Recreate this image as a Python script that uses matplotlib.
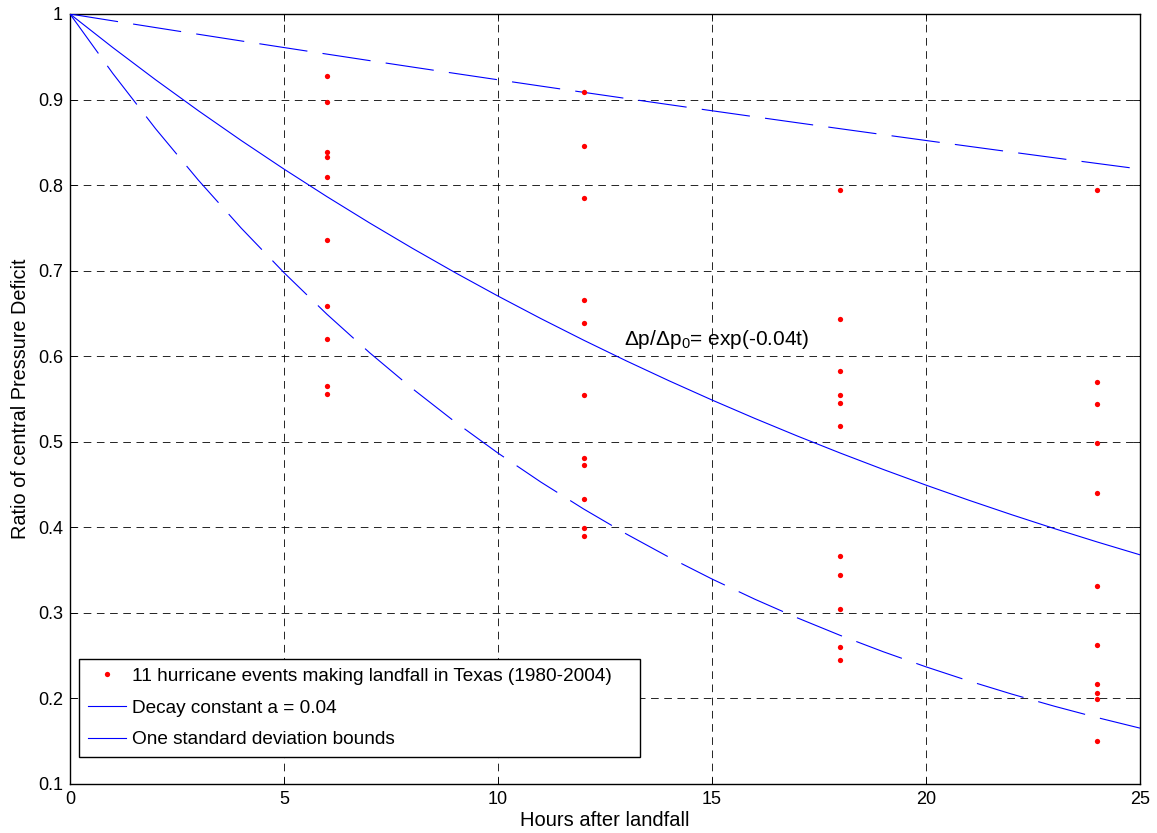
import numpy as np
import matplotlib
matplotlib.use("Agg")
import matplotlib.pyplot as plt
from matplotlib.lines import Line2D

plt.rcParams['font.family'] = ['Liberation Sans', 'DejaVu Sans']
plt.rcParams['mathtext.default'] = 'regular'
plt.rcParams['lines.scale_dashes'] = False

# Observed pressure-deficit ratios at 6, 12, 18 and 24 hours after landfall
hours_6 = [0.927, 0.897, 0.839, 0.833, 0.810, 0.736, 0.659, 0.620, 0.565, 0.556]
hours_12 = [0.909, 0.846, 0.785, 0.666, 0.639, 0.555, 0.481, 0.473, 0.433, 0.399, 0.390]
hours_18 = [0.794, 0.643, 0.583, 0.555, 0.545, 0.519, 0.367, 0.344, 0.305, 0.260, 0.245]
hours_24 = [0.794, 0.570, 0.544, 0.499, 0.440, 0.332, 0.262, 0.217, 0.206, 0.199, 0.150]
obs_hours = [6, 12, 18, 24]

# Decay constants: mean fit and one-standard-deviation bounds
decay_mean = 0.04
decay_low = 0.008
decay_high = 0.072

x_ticks = [0, 5, 10, 15, 20, 25]
y_ticks = [0.1, 0.2, 0.3, 0.4, 0.5, 0.6, 0.7, 0.8, 0.9, 1]
y_tick_labels = ['0.1', '0.2', '0.3', '0.4', '0.5', '0.6', '0.7', '0.8', '0.9', '1']

fig = plt.figure(figsize=(11.57, 8.33), dpi=100)
ax = fig.add_axes([70 / 1157, 49 / 833, 1070 / 1157, 770 / 833])

t = np.arange(0, 26, 1.0)
blue = '#0000ff'
ax.plot(t, np.exp(-decay_mean * t), color=blue, lw=0.8, zorder=3)
upper, = ax.plot(t, np.exp(-decay_low * t), color=blue, lw=0.8, zorder=3)
lower, = ax.plot(t, np.exp(-decay_high * t), color=blue, lw=0.8, zorder=3)
for ln in (upper, lower):
    ln.set_dashes((35, 11))

for h, vals in zip(obs_hours, [hours_6, hours_12, hours_18, hours_24]):
    ax.plot([h] * len(vals), vals, 'o', color='#ff0000', ms=3.8, mec='none', zorder=4)

ax.set_xlim(0, 25)
ax.set_ylim(0.1, 1)
ax.set_xticks(x_ticks)
ax.set_yticks(y_ticks)
ax.set_yticklabels(y_tick_labels)
ax.tick_params(direction='in', top=True, right=True, labelsize=13, length=5, width=0.6, pad=5)
ax.grid(True, color='black', linestyle=(0, (5.5, 4)), lw=0.6)
for s in ax.spines.values():
    s.set_linewidth(1.0)

ax.set_xlabel('Hours after landfall', fontsize=14.5, labelpad=2)
ax.set_ylabel('Ratio of central Pressure Deficit', fontsize=14.3, labelpad=6)

ax.text(12.95, 0.613, r'$\Delta$p/$\Delta$p$_0$= exp(-0.04t)', fontsize=15, zorder=5)

handles = [
    Line2D([], [], marker='o', color='#ff0000', ls='none', ms=3.8, mec='none'),
    Line2D([], [], color=blue, lw=0.8),
    Line2D([], [], color=blue, lw=0.8),
]
labels = [
    '11 hurricane events making landfall in Texas (1980-2004)',
    'Decay constant a = 0.04',
    'One standard deviation bounds',
]
leg = ax.legend(handles, labels, loc='lower left', mode='expand',
                bbox_to_anchor=(0.0084, 0.035, 0.5243, 0.13),
                fontsize=13.7, fancybox=False, framealpha=1, edgecolor='black',
                handlelength=2.0, handletextpad=0.32, labelspacing=0.76,
                borderpad=0.45, borderaxespad=0)
leg.get_frame().set_linewidth(1.0)
leg.set_zorder(10)

fig.savefig('out.png', dpi=100)
